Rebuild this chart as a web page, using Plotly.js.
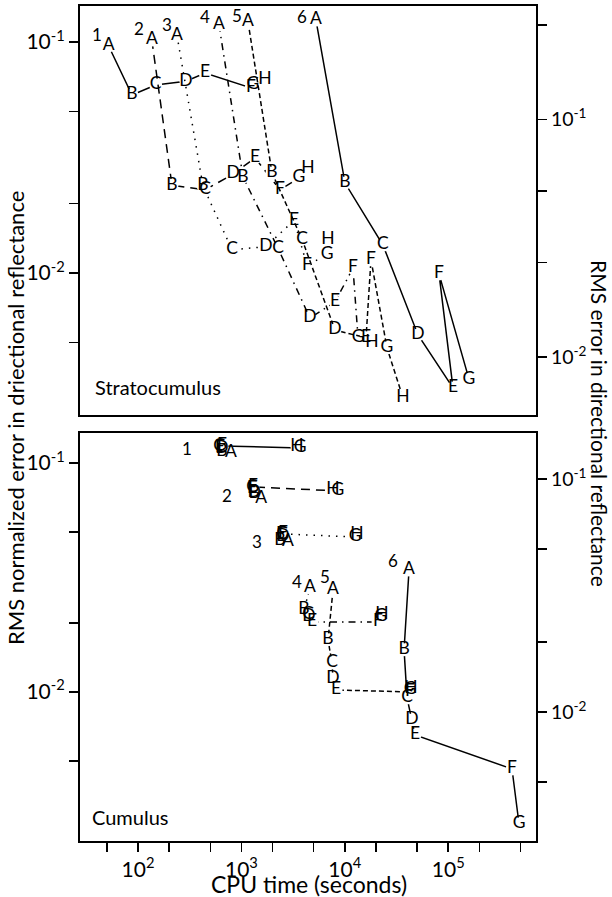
<!DOCTYPE html>
<html><head><meta charset="utf-8">
<script src="https://cdn.plot.ly/plotly-3.0.1.min.js"></script>
<style>html,body{margin:0;padding:0;background:#fff}#chart{width:612px;height:897px}</style>
</head><body><div id="chart"></div>
<script>
// ---------- DATA ----------
const letters = ['A','B','C','D','E','F','G','H'];
const seriesLabels = ['1','2','3','4','5','6'];

// Stratocumulus: CPU time (s) / RMS normalized error
const sc1_time = [52, 87.5, 148, 291, 445, 1239, 1295, 1691];
const sc1_err  = [0.0961, 0.0590, 0.0651, 0.0677, 0.0734, 0.0633, 0.0651, 0.0684];
const sc2_time = [136, 213, 445, 830, 1355, 2362, 3607, 4405];
const sc2_err  = [0.102, 0.0240, 0.0229, 0.0268, 0.0315, 0.0229, 0.0258, 0.0282];
const sc3_time = [238, 425, 811, 1730, 3228, 4308, 6730, 6880];
const sc3_err  = [0.107, 0.0238, 0.0126, 0.0130, 0.0169, 0.0108, 0.0120, 0.0140];
const sc4_time = [607, 1036, 2259, 4603, 8035, 12000, 13430, 18330];
const sc4_err  = [0.1186, 0.0260, 0.0128, 0.00638, 0.00749, 0.0105, 0.00524, 0.00498];
const sc5_time = [1159, 1977, 3857, 8035, 16040, 17910, 25580, 36540];
const sc5_err  = [0.122, 0.0271, 0.0140, 0.00566, 0.00524, 0.0114, 0.00474, 0.00288];
const sc6_time = [5260, 10050, 23390, 51050, 111200, 81470, 158800];
const sc6_err  = [0.1245, 0.0245, 0.0132, 0.00539, 0.00318, 0.00991, 0.00347];

// Cumulus
const cu1_time = [793, 649, 607, 649, 621, 649, 3690, 3451];
const cu1_err  = [0.1106, 0.1117, 0.1175, 0.1151, 0.1164, 0.1186, 0.1164, 0.1175];
const cu2_time = [1549, 1325, 1267, 1325, 1267, 1295, 8590, 7690];
const cu2_err  = [0.0697, 0.0732, 0.0778, 0.0740, 0.0769, 0.0786, 0.0755, 0.0762];
const cu3_time = [2825, 2362, 2472, 2525, 2415, 2525, 12560, 13130];
const cu3_err  = [0.0452, 0.0456, 0.0485, 0.0475, 0.0485, 0.0490, 0.0475, 0.0485];
const cu4_time = [4603, 4030, 4405, 4508, 4816, 20940, 22390, 22910];
const cu4_err  = [0.0285, 0.0228, 0.0217, 0.0213, 0.0202, 0.0202, 0.0213, 0.0217];
const cu5_time = [7690, 6880, 7520, 7690, 8222, 42770, 42770, 43650];
const cu5_err  = [0.0279, 0.0169, 0.0134, 0.0114, 0.0102, 0.0100, 0.0102, 0.0103];
const cu6_time = [41790, 37400, 39990, 44670, 47750, 414000, 484000];
const cu6_err  = [0.0341, 0.0153, 0.00942, 0.00755, 0.00649, 0.00461, 0.00265];

// axis ticks
const xTickVals = [50,100,200,500,1000,2000,5000,1e4,2e4,5e4,1e5,2e5,5e5];
const xTickText = ['','10<sup>2</sup>','','','10<sup>3</sup>','','','10<sup>4</sup>','','','10<sup>5</sup>','',''];
const yTickVals = [0.005,0.01,0.02,0.05,0.1,0.2];
const yTickText = ['','10<sup>-2</sup>','','','10<sup>-1</sup>',''];
const yRightTopVals = [0.01,0.025,0.05,0.1,0.25];
const yRightTopText = ['10<sup>-2</sup>','','','10<sup>-1</sup>',''];

// ---------- STYLE ----------
const FONT = 'Lato, "Open Sans", sans-serif';
const dashes = ['solid','9px,6px','1.5px,6px','7px,5px,1.5px,5px','5px,3px','solid'];
// number-label offsets (px) relative to point A
const numShiftTop = [[-12,12],[-13,12],[-10,11],[-14,8],[-11,7],[-14,4]];
const numShiftBot = [[-44,4],[-34,3],[-31,0],[-13,6],[-8,13],[-16,9]];

const panels = [
  {xa:'x', ya:'y', yr:'y3', times:[sc1_time,sc2_time,sc3_time,sc4_time,sc5_time,sc6_time],
   errs:[sc1_err,sc2_err,sc3_err,sc4_err,sc5_err,sc6_err], shifts:numShiftTop},
  {xa:'x2', ya:'y2', yr:'y4', times:[cu1_time,cu2_time,cu3_time,cu4_time,cu5_time,cu6_time],
   errs:[cu1_err,cu2_err,cu3_err,cu4_err,cu5_err,cu6_err], shifts:numShiftBot}
];

const traces = [];
const textTraces = [];
const annotations = [];
panels.forEach(p => {
  // invisible trace so that the right-hand axis is drawn
  traces.push({x:p.times[0], y:p.errs[0], xaxis:p.xa, yaxis:p.yr, mode:'markers', hoverinfo:'skip',
    marker:{size:1, opacity:0}});
  p.times.forEach((t, i) => {
    const e = p.errs[i];
    traces.push({x:t, y:e, xaxis:p.xa, yaxis:p.ya, mode:'lines', hoverinfo:'skip',
      line:{color:'#000', width:1.5, dash:dashes[i]}});
    traces.push({x:t, y:e, xaxis:p.xa, yaxis:p.ya, mode:'markers', hoverinfo:'skip',
      marker:{color:'#fff', size:13, line:{width:0}}});
    textTraces.push({x:t, y:e, xaxis:p.xa, yaxis:p.ya, mode:'text', hoverinfo:'skip',
      text:letters.slice(0, t.length), textposition:'middle center',
      textfont:{family:FONT, size:17.5, color:'#000'}});
    annotations.push({xref:p.xa, yref:p.ya, x:Math.log10(t[0]), y:Math.log10(e[0]),
      text:seriesLabels[i], showarrow:false, xshift:p.shifts[i][0], yshift:p.shifts[i][1],
      font:{family:FONT, size:17, color:'#000'}});
  });
});

const W = 612, H = 897;
const xL = 80/W, xR = 536/W;
const topDom = [1-415/H, 1-6/H];
const botDom = [1-841/H, 1-433/H];

annotations.push(
  {xref:'paper', yref:'paper', x:93/W, y:1-387/H, xanchor:'left', yanchor:'middle', showarrow:false,
   text:'Stratocumulus', font:{family:FONT, size:20, color:'#000'}},
  {xref:'paper', yref:'paper', x:90/W, y:1-817/H, xanchor:'left', yanchor:'middle', showarrow:false,
   text:'Cumulus', font:{family:FONT, size:20, color:'#000'}},
  {xref:'paper', yref:'paper', x:15/W, y:1-418/H, xanchor:'center', yanchor:'middle', showarrow:false,
   textangle:-90, text:'RMS normalized error in driectional reflectance', font:{family:FONT, size:22, color:'#000'}},
  {xref:'paper', yref:'paper', x:600/W, y:1-423/H, xanchor:'center', yanchor:'middle', showarrow:false,
   textangle:90, text:'RMS error in directional reflectance', font:{family:FONT, size:21, color:'#000'}},
  {xref:'paper', yref:'paper', x:309/W, y:1-884/H, xanchor:'center', yanchor:'middle', showarrow:false,
   text:'CPU time (seconds)', font:{family:FONT, size:23, color:'#000'}}
);

const baseAx = {type:'log', showgrid:false, zeroline:false, showline:true, linecolor:'#000', linewidth:2,
  ticks:'outside', ticklen:9, tickwidth:1.5, tickcolor:'#000', tickfont:{family:FONT, size:21, color:'#000'}};
const rightFont = {family:FONT, size:19.5, color:'#000'};

const layout = {
  width:W, height:H, margin:{l:0, r:0, t:0, b:0}, paper_bgcolor:'#fff', plot_bgcolor:'#fff',
  showlegend:false, hovermode:false, font:{family:FONT, color:'#000'},
  xaxis: Object.assign({}, baseAx, {domain:[xL,xR], anchor:'y', range:[1.439,5.849], mirror:true,
    ticks:'', showticklabels:false}),
  xaxis2: Object.assign({}, baseAx, {domain:[xL,xR], anchor:'y2', range:[1.439,5.849], mirror:true,
    tickmode:'array', tickvals:xTickVals, ticktext:xTickText}),
  yaxis: Object.assign({}, baseAx, {domain:topDom, anchor:'x', range:[-2.615,-0.844],
    tickmode:'array', tickvals:yTickVals, ticktext:yTickText}),
  yaxis3: Object.assign({}, baseAx, {overlaying:'y', side:'right', anchor:'x', range:[-2.244,-0.522],
    tickmode:'array', tickvals:yRightTopVals, ticktext:yRightTopText, tickfont:rightFont}),
  yaxis2: Object.assign({}, baseAx, {domain:botDom, anchor:'x2', range:[-2.651,-0.869],
    tickmode:'array', tickvals:yTickVals, ticktext:yTickText}),
  yaxis4: Object.assign({}, baseAx, {overlaying:'y2', side:'right', anchor:'x2', range:[-2.554,-0.803],
    tickmode:'array', tickvals:yTickVals, ticktext:yTickText, tickfont:rightFont}),
  annotations: annotations
};

Plotly.newPlot('chart', traces.concat(textTraces), layout, {displayModeBar:false, staticPlot:true});
</script>
</body></html>
